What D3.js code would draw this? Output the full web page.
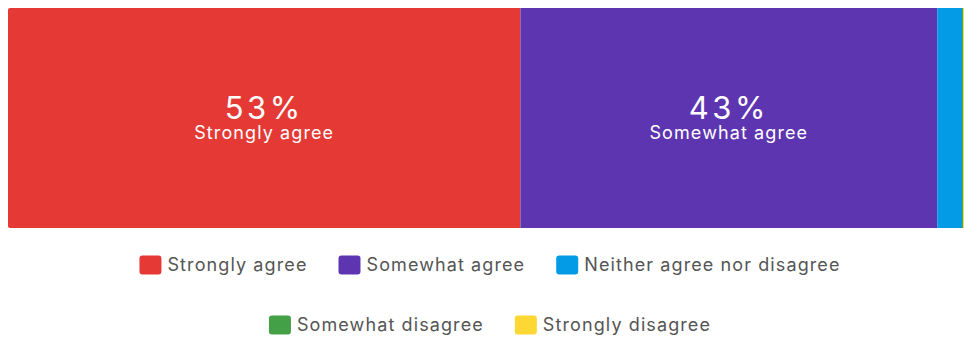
<!DOCTYPE html>
<html>
<head>
<meta charset="utf-8">
<script src="https://cdn.jsdelivr.net/npm/d3@7"></script>
<style>
  html, body { margin: 0; padding: 0; background: #fff; overflow: hidden; }
  svg { display: block; font-family: Inter, "Noto Sans", sans-serif; }
</style>
</head>
<body>
<svg id="chart" width="964" height="339"></svg>
<script>
const categories = ["Strongly agree", "Somewhat agree", "Neither agree nor disagree", "Somewhat disagree", "Strongly disagree"];
const values = [53.6, 43.6, 2.6, 0.1, 0.1];
const colors = ["#E53935", "#5E35B1", "#039BE5", "#43A047", "#FDD835"];

const svg = d3.select("#chart");
const barTop = 8, barH = 220, barLeft = 8, barRight = 964;

const data = categories.map((c, i) => ({ cat: c, value: values[i], color: colors[i] }));
let acc = 0;
data.forEach(d => { d.x0 = acc; acc += d.value; d.x1 = acc; });

const x = d3.scaleLinear().domain([0, d3.sum(values)]).range([barLeft, barRight]);

const clipId = "barclip";
svg.append("defs").append("clipPath").attr("id", clipId)
  .append("rect").attr("x", barLeft).attr("y", barTop)
  .attr("width", barRight - barLeft + 4).attr("height", barH).attr("rx", 2);

const g = svg.append("g").attr("clip-path", `url(#${clipId})`);
g.selectAll("rect.seg").data(data).join("rect")
  .attr("class", "seg")
  .attr("x", d => x(d.x0))
  .attr("y", barTop)
  .attr("width", d => x(d.x1) - x(d.x0))
  .attr("height", barH)
  .attr("fill", d => d.color);

const labels = svg.selectAll("g.lbl").data(data.filter(d => x(d.x1) - x(d.x0) > 150)).join("g")
  .attr("class", "lbl")
  .attr("transform", d => `translate(${(x(d.x0) + x(d.x1)) / 2},0)`);
labels.append("text")
  .attr("text-anchor", "middle").attr("y", 119)
  .attr("fill", "#fff").attr("font-size", 31).attr("letter-spacing", 3.5)
  .text(d => Math.floor(d.value) + "%");
labels.append("text")
  .attr("text-anchor", "middle").attr("y", 139)
  .attr("fill", "#fff").attr("font-size", 18).attr("letter-spacing", 1.1)
  .text(d => d.cat);

// Legend with flow layout
const legendCenter = 490, maxRow = 760, sw = 22, sh = 19, gapText = 6, gapItem = 31;
const legend = svg.append("g");
const items = legend.selectAll("g.item").data(data).join("g").attr("class", "item");
items.append("rect").attr("width", sw).attr("height", sh).attr("rx", 3)
  .attr("y", -sh / 2).attr("fill", d => d.color);
items.append("text").attr("x", sw + gapText).attr("dy", "0.36em")
  .attr("font-size", 18).attr("letter-spacing", 1.1).attr("fill", "#555").text(d => d.cat);

const widths = [];
items.each(function(d) { widths.push(sw + gapText + this.querySelector("text").getComputedTextLength()); });
const rows = [];
let cur = [], curW = 0;
widths.forEach((w, i) => {
  const add = cur.length ? gapItem + w : w;
  if (cur.length && curW + add > maxRow) { rows.push({ idx: cur, w: curW }); cur = [i]; curW = w; }
  else { cur.push(i); curW += add; }
});
if (cur.length) rows.push({ idx: cur, w: curW });
const rowY = [265, 325];
rows.forEach((r, ri) => {
  let px = legendCenter - r.w / 2;
  r.idx.forEach(i => {
    items.filter((d, j) => j === i).attr("transform", `translate(${px},${rowY[ri]})`);
    px += widths[i] + gapItem;
  });
});
</script>
</body>
</html>
